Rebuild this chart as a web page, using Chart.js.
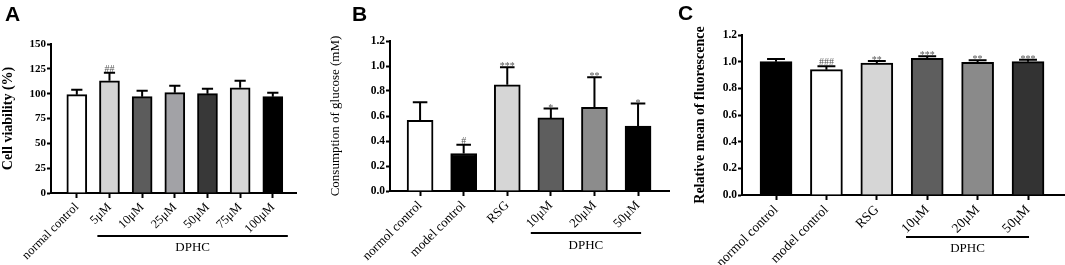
<!DOCTYPE html>
<html>
<head>
<meta charset="utf-8">
<script src="https://cdn.jsdelivr.net/npm/chart.js@4.4.1/dist/chart.umd.min.js"></script>
<style>
  body { margin: 0; background: #fff; width: 1065px; height: 265px; overflow: hidden; position: relative; }
  .panel { position: absolute; top: 0; height: 265px; }
</style>
</head>
<body>
<div class="panel" style="left:0;width:318px"><canvas id="chartA"></canvas></div>
<div class="panel" style="left:318px;width:356px"><canvas id="chartB"></canvas></div>
<div class="panel" style="left:674px;width:391px"><canvas id="chartC"></canvas></div>
<script>
"use strict";

// A - cell viability (%)
const labelsA = ['normal control', '5μM', '10μM', '25μM', '50μM', '75μM', '100μM'];
const valuesA = [99, 113, 97, 101, 100, 106, 97];
const errorsA = [104, 121, 103, 108, 105, 113, 101];
const marksA = ['', '##', '', '', '', '', ''];
const ticksA = [0, 25, 50, 75, 100, 125, 150];

// B - glucose consumption (mM)
const labelsB = ['normol control', 'model control', 'RSG', '10μM', '20μM', '50μM'];
const valuesB = [0.565, 0.30, 0.85, 0.585, 0.67, 0.52];
const errorsB = [0.71, 0.37, 0.99, 0.66, 0.91, 0.70];
const marksB = ['', '#', '***', '*', '**', '*'];
const ticksB = [0, 0.2, 0.4, 0.6, 0.8, 1.0, 1.2];

// C - relative mean of fluorescence
const labelsC = ['normol control', 'model control', 'RSG', '10μM', '20μM', '50μM'];
const valuesC = [1.0, 0.94, 0.99, 1.025, 0.995, 1.0];
const errorsC = [1.02, 0.965, 1.005, 1.04, 1.01, 1.015];
const marksC = ['', '###', '**', '***', '**', '***'];
const ticksC = [0, 0.2, 0.4, 0.6, 0.8, 1.0, 1.2];

// bar fills (greyscale like the original figure)
const fillsA = ['#ffffff', '#d4d4d4', '#5c5c5c', '#a2a2a6', '#383838', '#d6d6d6', '#000000'];
const fillsB = ['#ffffff', '#000000', '#d6d6d6', '#5e5e5e', '#8c8c8c', '#000000'];
const fillsC = ['#000000', '#ffffff', '#d6d6d6', '#5e5e5e', '#8a8a8a', '#333333'];

Chart.defaults.font.family = "'Liberation Serif', 'DejaVu Serif', serif";
Chart.defaults.color = '#000';

// error bars, significance marks, DPHC bracket and panel letter
const extrasPlugin = {
    id: 'extras',
    afterDatasetsDraw(chart, args, opts) {
        const { ctx, scales: { x, y } } = chart;
        const meta = chart.getDatasetMeta(0);
        ctx.save();
        ctx.strokeStyle = '#000';
        ctx.lineWidth = 2;
        meta.data.forEach((bar, i) => {
            const top = y.getPixelForValue(opts.errors[i]);
            const half = bar.width * 0.28;
            ctx.beginPath();
            ctx.moveTo(bar.x, bar.y);
            ctx.lineTo(bar.x, top);
            ctx.moveTo(bar.x - half, top);
            ctx.lineTo(bar.x + half, top);
            ctx.stroke();
            if (opts.marks[i]) {
                // '#' sits on its baseline, '*' floats high in the em box
                const isHash = opts.marks[i][0] === '#';
                ctx.fillStyle = '#555';
                ctx.font = "10px 'Liberation Serif', serif";
                ctx.textAlign = 'center';
                ctx.textBaseline = 'alphabetic';
                ctx.fillText(opts.marks[i], bar.x, top + (isHash ? -1 : 2));
            }
        });

        // DPHC bracket
        const g = opts.group;
        const x1 = x.getPixelForValue(g.from - g.padL);
        const x2 = x.getPixelForValue(g.to + g.padR);
        ctx.lineWidth = 2;
        ctx.beginPath();
        ctx.moveTo(x1, g.lineY);
        ctx.lineTo(x2, g.lineY);
        ctx.stroke();
        ctx.fillStyle = '#000';
        ctx.font = "13px 'Liberation Serif', serif";
        ctx.textAlign = 'center';
        ctx.textBaseline = 'middle';
        ctx.fillText(g.text, (x1 + x2) / 2, g.textY);

        // panel letter
        ctx.font = "bold 21px 'Liberation Sans', Arial, sans-serif";
        ctx.textAlign = 'left';
        ctx.textBaseline = 'alphabetic';
        ctx.fillText(opts.panel.text, opts.panel.x, opts.panel.y);
        ctx.restore();
    }
};

function makePanel(id, d, lay) {
    new Chart(document.getElementById(id), {
        type: 'bar',
        data: {
            datasets: [{
                data: d.values.map((v, i) => ({ x: i, y: v })),
                backgroundColor: d.fills,
                borderColor: '#000',
                borderWidth: 2,
                barThickness: lay.barWidth
            }]
        },
        options: {
            responsive: true,
            maintainAspectRatio: false,
            animation: false,
            events: [],
            layout: { padding: { top: lay.top, right: lay.right, left: 0, bottom: 0 } },
            plugins: {
                legend: { display: false },
                tooltip: { enabled: false },
                extras: {
                    errors: d.errors,
                    marks: d.marks,
                    group: lay.group,
                    panel: lay.panel
                }
            },
            scales: {
                x: {
                    type: 'linear',
                    offset: false,
                    min: lay.xMin,
                    max: lay.xMax,
                    afterBuildTicks: s => { s.ticks = d.labels.map((_, i) => ({ value: i })); },
                    afterFit: s => { s.height = lay.xHeight; },
                    border: { display: true, color: '#000', width: 2 },
                    grid: { offset: false, drawOnChartArea: false, drawTicks: true, tickLength: 5, tickColor: '#000', tickWidth: 2 },
                    ticks: {
                        autoSkip: false,
                        minRotation: 45,
                        maxRotation: 45,
                        padding: 2,
                        color: '#000',
                        font: { size: lay.xFont },
                        callback: v => d.labels[v]
                    }
                },
                y: {
                    min: 0,
                    max: d.ticks[d.ticks.length - 1],
                    afterBuildTicks: s => { s.ticks = d.ticks.map(v => ({ value: v })); },
                    afterFit: s => { s.width = lay.yWidth; },
                    border: { display: true, color: '#000', width: 2 },
                    grid: { drawOnChartArea: false, drawTicks: true, tickLength: 4, tickColor: '#000', tickWidth: 2 },
                    ticks: {
                        padding: 1,
                        color: '#000',
                        font: { size: lay.yFont, weight: 'bold' },
                        callback: v => d.fmt(v)
                    },
                    title: {
                        display: true,
                        text: d.title,
                        color: '#000',
                        font: { size: lay.titleSize, weight: lay.titleWeight },
                        padding: { top: lay.titlePad, bottom: 0 }
                    }
                }
            }
        },
        plugins: [extrasPlugin]
    });
}

makePanel('chartA',
    { labels: labelsA, values: valuesA, errors: errorsA, marks: marksA, ticks: ticksA, fills: fillsA,
      title: 'Cell viability (%)', fmt: v => String(v) },
    { top: 44, right: 22, xHeight: 72, yWidth: 51, xMin: -0.79, xMax: 6.71, barWidth: 20,
      xFont: 12.5, yFont: 11, titleSize: 14, titleWeight: 'bold', titlePad: 0,
      group: { from: 1, to: 6, padL: 0.37, padR: 0.46, lineY: 236, textY: 248, text: 'DPHC' },
      panel: { text: 'A', x: 5, y: 21 } });

makePanel('chartB',
    { labels: labelsB, values: valuesB, errors: errorsB, marks: marksB, ticks: ticksB, fills: fillsB,
      title: 'Consumption of glucose (mM)', fmt: v => v.toFixed(1) },
    { top: 41, right: 5, xHeight: 74, yWidth: 72, xMin: -0.69, xMax: 5.71, barWidth: 26,
      xFont: 13, yFont: 11.5, titleSize: 13, titleWeight: 'normal', titlePad: 10,
      group: { from: 3, to: 5, padL: 0.46, padR: 0.07, lineY: 233, textY: 246, text: 'DPHC' },
      panel: { text: 'B', x: 34, y: 21 } });

makePanel('chartC',
    { labels: labelsC, values: valuesC, errors: errorsC, marks: marksC, ticks: ticksC, fills: fillsC,
      title: 'Relative mean of fluorescence', fmt: v => v.toFixed(1) },
    { top: 35, right: 1, xHeight: 70, yWidth: 68, xMin: -0.675, xMax: 5.714, barWidth: 32,
      xFont: 13.5, yFont: 11.5, titleSize: 14, titleWeight: 'bold', titlePad: 18,
      group: { from: 3, to: 5, padL: 0.42, padR: 0.02, lineY: 237, textY: 249, text: 'DPHC' },
      panel: { text: 'C', x: 4, y: 20 } });
</script>
</body>
</html>
